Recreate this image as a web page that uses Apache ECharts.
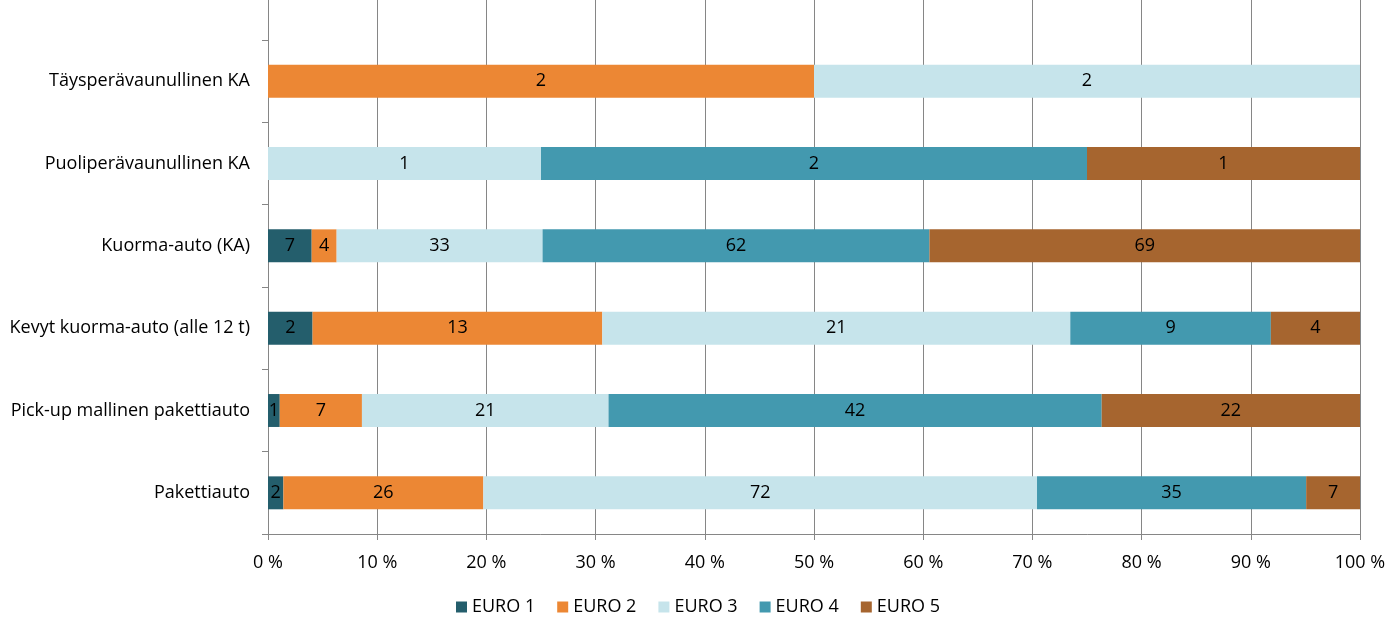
<!DOCTYPE html>
<html><head><meta charset="utf-8">
<script src="https://cdn.jsdelivr.net/npm/echarts@6/dist/echarts.min.js"></script>
<style>html,body{margin:0;padding:0;background:#fff}#c{width:1396px;height:628px}</style>
</head><body><div id="c"></div>
<script>
const categories = ["Pakettiauto","Pick-up mallinen pakettiauto","Kevyt kuorma-auto (alle 12 t)","Kuorma-auto (KA)","Puoliperävaunullinen KA","Täysperävaunullinen KA"];
const seriesNames = ["EURO 1","EURO 2","EURO 3","EURO 4","EURO 5"];
const euro1 = [2, 1, 2, 7, 0, 0];
const euro2 = [26, 7, 13, 4, 0, 2];
const euro3 = [72, 21, 21, 33, 1, 2];
const euro4 = [35, 42, 9, 62, 2, 0];
const euro5 = [7, 22, 4, 69, 1, 0];
const xTickLabels = ["0 %","10 %","20 %","30 %","40 %","50 %","60 %","70 %","80 %","90 %","100 %"];
const colors = ["#245E6C","#EC8734","#C6E4EB","#4399AF","#A6652F"];

const all = [euro1, euro2, euro3, euro4, euro5];
const totals = categories.map((_, i) => all.reduce((s, a) => s + a[i], 0));
const FONT = "'Open Sans', 'Noto Sans', sans-serif";
const FS = 18;

const series = all.map((arr, k) => ({
  name: seriesNames[k],
  type: 'bar',
  stack: 'total',
  barWidth: '40%',
  xAxisIndex: 0, yAxisIndex: 0,
  itemStyle: { color: colors[k] },
  label: {
    show: true, position: 'inside', color: '#000', fontSize: FS, fontFamily: FONT,
    formatter: p => arr[p.dataIndex] > 0 ? String(arr[p.dataIndex]) : ''
  },
  data: arr.map((v, i) => totals[i] ? v / totals[i] * 100 : 0)
}));

const chart = echarts.init(document.getElementById('c'));
chart.setOption({
  animation: false,
  textStyle: { fontFamily: FONT },
  color: colors,
  grid: [
    { left: 268, right: 36, top: 40, bottom: 94, containLabel: false },
    { left: 268, right: 36, top: 0, height: 40, containLabel: false }
  ],
  legend: {
    bottom: 7, left: 'center', itemWidth: 11, itemHeight: 11, itemGap: 22,
    icon: 'rect',
    textStyle: { fontSize: FS, color: '#000', fontFamily: FONT },
    data: seriesNames
  },
  xAxis: [{
    gridIndex: 0, type: 'value', min: 0, max: 100, interval: 10,
    axisLine: { show: true, lineStyle: { color: '#868686' } },
    axisTick: { show: true, length: 6, lineStyle: { color: '#868686' } },
    splitLine: { show: true, lineStyle: { color: '#868686', width: 1 } },
    axisLabel: { fontSize: FS, color: '#000', margin: 20, fontFamily: FONT,
      formatter: v => xTickLabels[Math.round(v / 10)] }
  }, {
    gridIndex: 1, type: 'value', min: 0, max: 100, interval: 10,
    axisLine: { show: false }, axisTick: { show: false }, axisLabel: { show: false },
    splitLine: { show: true, lineStyle: { color: '#868686', width: 1 } }
  }],
  yAxis: [{
    gridIndex: 0, type: 'category', data: categories,
    axisLine: { show: true, lineStyle: { color: '#868686' } },
    axisTick: { show: true, length: 6, lineStyle: { color: '#868686' } },
    axisLabel: { fontSize: FS, color: '#000', margin: 18, fontFamily: FONT }
  }, {
    gridIndex: 1, type: 'category', data: [''],
    axisLine: { show: true, lineStyle: { color: '#868686' } },
    axisTick: { show: false }, axisLabel: { show: false }
  }],
  series: series
});
</script></body></html>
